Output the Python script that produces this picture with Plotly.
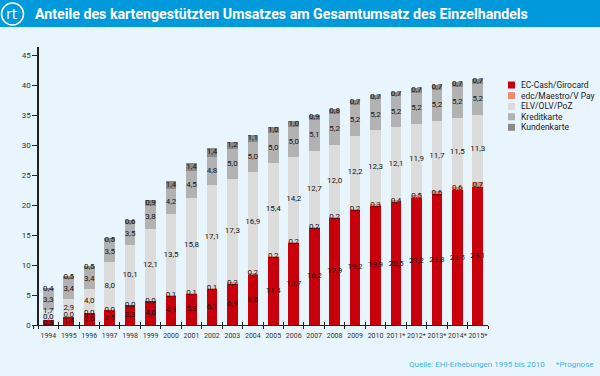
import plotly.graph_objects as go

years = ["1994", "1995", "1996", "1997", "1998", "1999", "2000", "2001", "2002", "2003",
         "2004", "2005", "2006", "2007", "2008", "2009", "2010", "2011*", "2012*", "2013*",
         "2014*", "2015*"]
ec_cash = [0.8, 1.4, 2.0, 2.5, 3.3, 4.0, 4.9, 5.3, 6.1, 6.9, 8.5, 11.4, 13.7, 16.2, 17.9,
           19.2, 19.9, 20.5, 21.2, 21.8, 22.5, 23.1]
edc_maestro = [0.0, 0.0, 0.0, 0.0, 0.0, 0.0, 0.1, 0.1, 0.1, 0.2, 0.2, 0.2, 0.2, 0.2, 0.2,
               0.2, 0.3, 0.4, 0.5, 0.6, 0.6, 0.7]
elv = [1.7, 2.9, 4.0, 8.0, 10.1, 12.1, 13.5, 15.8, 17.1, 17.3, 16.9, 15.4, 14.2, 12.7, 12.0,
       12.2, 12.3, 12.1, 11.9, 11.7, 11.5, 11.3]
kredit = [3.3, 3.4, 3.4, 3.5, 3.5, 3.8, 4.2, 4.5, 4.8, 5.0, 5.0, 5.0, 5.0, 5.1, 5.2,
          5.2, 5.2, 5.2, 5.2, 5.2, 5.2, 5.2]
kunden = [0.4, 0.5, 0.5, 0.5, 0.6, 0.9, 1.4, 1.4, 1.4, 1.2, 1.1, 1.0, 1.0, 0.9, 0.8,
          0.7, 0.7, 0.7, 0.7, 0.7, 0.7, 0.7]
series_names = ["EC-Cash/Girocard", "edc/Maestro/V Pay", "ELV/OLV/PoZ", "Kreditkarte", "Kundenkarte"]
series_values = [ec_cash, edc_maestro, elv, kredit, kunden]
colors = ["#c8000b", "#ea8d6e", "#dcdcdc", "#b2b2b2", "#8a8a8a"]
y_ticks = [0, 5, 10, 15, 20, 25, 30, 35, 40, 45]

title = "Anteile des kartengestützten Umsatzes am Gesamtumsatz des Einzelhandels"
source = "Quelle: EHI-Erhebungen 1995 bis 2010"
note = "*Prognose"

W, H = 600, 376
ML, MR, MT, MB = 33, 112, 47, 51
PW, PH = W - ML - MR, H - MT - MB
XMIN, XMAX = -0.75, len(years) - 0.5
YMAX = 46.4
BG = "#e9f5fd"
NARROW = "Liberation Sans Narrow, Arial Narrow, Roboto, sans-serif"


def px(xp):
    return (xp - ML) / PW


def py(yp):
    return (H - MB - yp) / PH


idx = list(range(len(years)))
fig = go.Figure()
for name, vals, col in zip(series_names, series_values, colors):
    fig.add_trace(go.Bar(x=idx, y=vals, name=name, marker=dict(color=col, line=dict(width=0)),
                         width=0.52, showlegend=False, hoverinfo="y+name"))

# segment labels (centred, spread apart slightly when segments are tiny)
lx, ly, lt = [], [], []
for i in idx:
    base = 0.0
    prev = None
    for vals in series_values:
        v = vals[i]
        mid = base + v / 2
        pos = mid if prev is None else max(mid, prev + 1.0)
        lx.append(i)
        ly.append(pos)
        lt.append(f"{v:.1f}".replace(".", ","))
        prev = pos
        base += v
fig.add_trace(go.Scatter(x=lx, y=ly, text=lt, mode="text", showlegend=False, hoverinfo="skip",
                         textfont=dict(size=8, color="#141414", family=NARROW)))

# helper traces for the boundary tick marks crossing the x axis
fig.add_trace(go.Scatter(x=[], y=[], xaxis="x2", showlegend=False))
fig.add_trace(go.Scatter(x=[], y=[], xaxis="x3", showlegend=False))

bounds = [XMIN] + [i - 0.5 for i in range(len(years) + 1)]

fig.update_layout(
    width=W, height=H, barmode="stack", bargap=0.48,
    paper_bgcolor=BG, plot_bgcolor=BG,
    margin=dict(l=ML, r=MR, t=MT, b=MB, pad=0, autoexpand=False),
    font=dict(family=NARROW, color="#222"),
    xaxis=dict(range=[XMIN, XMAX], tickvals=idx, ticktext=years, ticks="", tickangle=0,
               automargin=False,
               showline=True, linecolor="#222", linewidth=1.3, showgrid=False, zeroline=False,
               tickfont=dict(size=7, color="#333"), ticklabelstandoff=3),
    xaxis2=dict(range=[XMIN, XMAX], overlaying="x", anchor="y", tickvals=bounds, ticks="outside",
                ticklen=3, tickwidth=1.2, tickcolor="#222", showticklabels=False, automargin=False,
                showline=False, showgrid=False, zeroline=False),
    xaxis3=dict(range=[XMIN, XMAX], overlaying="x", anchor="y", tickvals=bounds, ticks="inside",
                ticklen=3, tickwidth=1.2, tickcolor="#222", showticklabels=False, automargin=False,
                showline=False, showgrid=False, zeroline=False),
    yaxis=dict(range=[0, YMAX], tickvals=y_ticks, ticks="outside", ticklen=5, tickwidth=1.2,
               tickcolor="#222", showline=True, linecolor="#222", linewidth=1.5, automargin=False,
               showgrid=False, zeroline=False, anchor="free", position=0.25 / (XMAX - XMIN),
               tickfont=dict(size=8, color="#333")),
)

shapes = [
    dict(type="rect", xref="paper", yref="paper", x0=px(0), x1=px(W), y0=py(0), y1=py(27),
         fillcolor="#0099dc", line=dict(width=0), layer="below"),
    dict(type="circle", xref="paper", yref="paper", x0=px(1.5), x1=px(23.5), y0=py(3), y1=py(25),
         line=dict(color="white", width=1.5)),
]
ann = [
    dict(text="rt", x=px(12), y=py(14), xref="paper", yref="paper", showarrow=False,
         font=dict(size=14, color="white", family="DejaVu Sans"), xanchor="center", yanchor="middle"),
    dict(text="<b>" + title + "</b>", x=px(33), y=py(14), xref="paper", yref="paper", showarrow=False,
         font=dict(size=14.2, color="white", family=NARROW), xanchor="left", yanchor="middle"),
    dict(text=source, x=px(547), y=py(364), xref="paper", yref="paper", showarrow=False,
         font=dict(size=8, color="#3fb2e8", family=NARROW), xanchor="right", yanchor="middle"),
    dict(text=note, x=px(554), y=py(364), xref="paper", yref="paper", showarrow=False,
         font=dict(size=8, color="#3fb2e8", family=NARROW), xanchor="left", yanchor="middle"),
]
leg_y = [85, 95.7, 106.3, 116.8, 127.3]
for name, col, yy in zip(series_names, colors, leg_y):
    shapes.append(dict(type="rect", xref="paper", yref="paper", x0=px(508), x1=px(515),
                       y0=py(yy - 3.5), y1=py(yy + 3.5), fillcolor=col, line=dict(width=0)))
    ann.append(dict(text=name, x=px(519), y=py(yy), xref="paper", yref="paper", showarrow=False,
                    font=dict(size=8.5, color="#222", family=NARROW), xanchor="left", yanchor="middle"))
fig.update_layout(shapes=shapes, annotations=ann)

fig.write_html("out.html", config={"displayModeBar": False},
               post_script="document.body.style.margin='0';document.body.style.padding='0';"
                           "document.body.style.overflow='hidden';")
